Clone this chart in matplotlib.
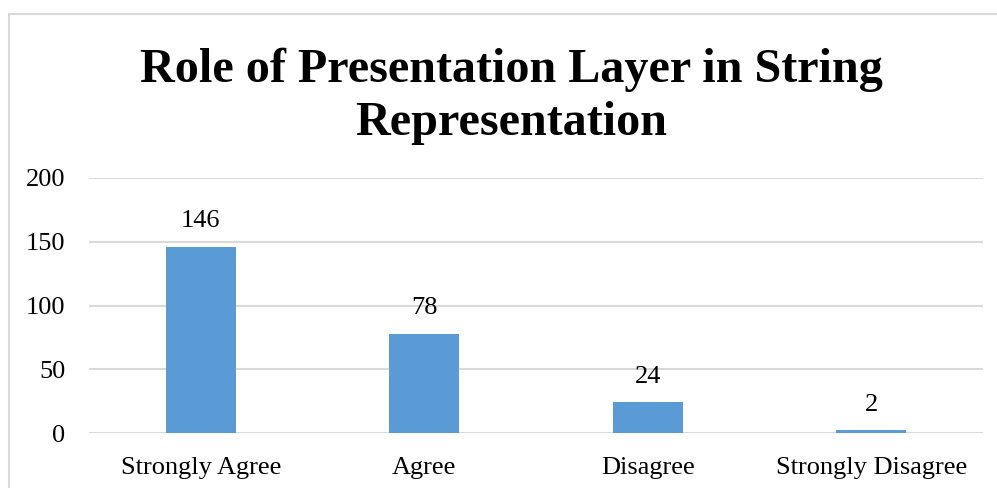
import matplotlib
matplotlib.use("Agg")
import matplotlib.pyplot as plt
from matplotlib.patches import Rectangle

categories = ["Strongly Agree", "Agree", "Disagree", "Strongly Disagree"]
values = [146, 78, 24, 2]
yticks = [0, 50, 100, 150, 200]
title_lines = ["Role of Presentation Layer in String", "Representation"]

W, H = 997, 488
fig = plt.figure(figsize=(W / 100, H / 100), dpi=100)
plt.rcParams['font.family'] = ['Liberation Serif', 'DejaVu Serif']

grid_c = "#D9D9D9"
bar_c = "#5B9BD5"

# outer chart frame (cropped)
fig.patches.append(Rectangle((8.5 / W, -0.1), 1.2, 1 - 14.5 / H + 0.1,
                             transform=fig.transFigure, fill=False,
                             edgecolor=grid_c, linewidth=1.5))

ax = fig.add_axes([89 / W, 1 - 433 / H, (983 - 89) / W, (433 - 178) / H])
x = range(len(categories))
ax.bar(x, values, width=0.313, color=bar_c, zorder=3)
ax.set_xlim(-0.5, len(categories) - 0.5)
ax.set_ylim(0, 200)
ax.set_yticks(yticks)
ax.set_xticks(list(x))
ax.set_xticklabels(categories, fontsize=19)
ax.set_yticklabels([str(t) for t in yticks], fontsize=19)
ax.tick_params(axis='both', length=0, colors='black')
ax.tick_params(axis='y', pad=17)
ax.tick_params(axis='x', pad=17)
for s in ax.spines.values():
    s.set_visible(False)
ax.yaxis.grid(True, color=grid_c, linewidth=1.5, zorder=0)
ax.set_axisbelow(True)
ax.patch.set_alpha(0)

for xi, v in zip(x, values):
    ax.annotate(str(v), (xi, v), xytext=(0, 14), textcoords='offset points',
                ha='center', va='baseline', fontsize=19)

for line, yb in zip(title_lines, [82, 135]):
    fig.text(511 / W, 1 - yb / H, line, ha='center', va='baseline',
             fontsize=34.7, fontweight='bold')

fig.savefig("out.png", dpi=100)
